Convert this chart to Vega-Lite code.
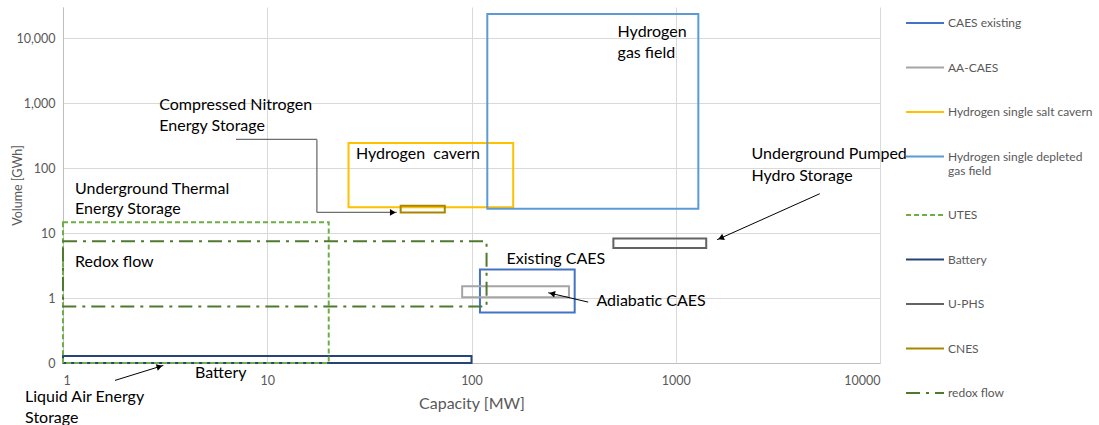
{
  "$schema": "https://vega.github.io/schema/vega-lite/v6.json",
  "width": 817,
  "height": 356,
  "autosize": {"type": "none"},
  "padding": {"left": 63, "top": 7, "right": 219, "bottom": 62},
  "background": "white",
  "config": {
    "view": {"stroke": null},
    "font": "Lato",
    "axis": {
      "labelFont": "Lato",
      "titleFont": "Lato",
      "labelColor": "#595959",
      "titleColor": "#595959",
      "gridColor": "#D9D9D9",
      "gridWidth": 1,
      "domainColor": "#BFBFBF",
      "ticks": false,
      "labelFontSize": 12.5,
      "titleFontWeight": "normal"
    },
    "legend": {
      "symbolType": "stroke",
      "symbolSize": 1444,
      "symbolStrokeWidth": 2,
      "labelFont": "Lato",
      "labelFontSize": 12,
      "labelColor": "#595959",
      "rowPadding": 18.5,
      "labelOffset": 3,
      "padding": 0,
      "labelLimit": 200
    }
  },
  "datasets": {
    "boxes": [
      {"series": "CAES existing", "x": 110, "x2": 320, "y": 0.6, "y2": 2.75},
      {"series": "AA-CAES", "x": 90, "x2": 300, "y": 1.03, "y2": 1.52},
      {"series": "Hydrogen single salt cavern", "x": 25, "x2": 160, "y": 25, "y2": 242},
      {"series": "Hydrogen single depleted gas field", "x": 119.5, "x2": 1290, "y": 23.7, "y2": 23500},
      {"series": "UTES", "x": 1, "x2": 20, "y": 0.1, "y2": 14.6},
      {"series": "Battery", "x": 1, "x2": 100, "y": 0.1, "y2": 0.128},
      {"series": "U-PHS", "x": 495, "x2": 1410, "y": 5.9, "y2": 8.2},
      {"series": "CNES", "x": 45, "x2": 74, "y": 20.7, "y2": 26.3},
      {"series": "redox flow", "x": 1, "x2": 118.5, "y": 0.74, "y2": 7.45}
    ],
    "labels": [
      {"label": "Hydrogen", "x": 519, "y": 12300},
      {"label": "gas field", "x": 519, "y": 5940},
      {"label": "Compressed Nitrogen", "x": 2.96, "y": 918},
      {"label": "Energy Storage", "x": 2.96, "y": 436},
      {"label": "Hydrogen\u00a0 cavern", "x": 27.2, "y": 162},
      {"label": "Underground Thermal", "x": 1.145, "y": 46.9},
      {"label": "Energy Storage", "x": 1.145, "y": 23.1},
      {"label": "Redox flow", "x": 1.145, "y": 3.53},
      {"label": "Battery", "x": 4.43, "y": 0.0709},
      {"label": "Liquid Air Energy", "x": 0.652, "y": 0.0299},
      {"label": "Storage", "x": 0.652, "y": 0.0144},
      {"label": "Existing CAES", "x": 148.5, "y": 3.92},
      {"label": "Adiabatic CAES", "x": 409, "y": 0.896},
      {"label": "Underground Pumped", "x": 2350, "y": 162},
      {"label": "Hydro Storage", "x": 2350, "y": 75}
    ],
    "arrows": [
      {"name": "LAES", "x": 1.797, "y": 0.054, "x2": 3.1, "y2": 0.0918},
      {"name": "AA", "x": 372.6, "y": 0.865, "x2": 237.4, "y2": 1.206},
      {"name": "UPHS", "x": 5070, "y": 40.2, "x2": 1594, "y2": 7.88},
      {"name": "CNES", "x": 7.03, "y": 275, "x2": 17.5, "y2": 275},
      {"name": "CNES", "x": 17.5, "y": 275, "x2": 17.5, "y2": 20.7},
      {"name": "CNES", "x": 17.5, "y": 20.7, "x2": 43.1, "y2": 20.7}
    ],
    "heads": [
      {"name": "LAES", "x": 2.97, "y": 0.088},
      {"name": "AA", "x": 248, "y": 1.169},
      {"name": "UPHS", "x": 1663, "y": 8.35},
      {"name": "CNES", "x": 41.2, "y": 20.7}
    ]
  },
  "encoding": {
    "x": {
      "field": "x",
      "type": "quantitative",
      "scale": {"type": "log", "domain": [1, 10000], "nice": false},
      "axis": {
        "title": "Capacity [MW]",
        "values": [1, 10, 100, 1000, 10000],
        "format": "d",
        "labelPadding": 11,
        "titleFontSize": 16,
        "titlePadding": 9
      }
    },
    "y": {
      "field": "y",
      "type": "quantitative",
      "scale": {"type": "log", "domain": [0.1, 30000], "nice": false},
      "axis": {
        "title": "Volume [GWh]",
        "values": [0.1, 1, 10, 100, 1000, 10000],
        "labelExpr": "datum.value < 1 ? '0' : format(datum.value, ',')",
        "labelPadding": 8,
        "titleFontSize": 12.5,
        "titlePadding": -9
      }
    },
    "color": {
      "field": "series",
      "type": "nominal",
      "scale": {
        "domain": ["CAES existing", "AA-CAES", "Hydrogen single salt cavern", "Hydrogen single depleted gas field", "UTES", "Battery", "U-PHS", "CNES", "redox flow"],
        "range": ["#4472C4", "#A5A5A5", "#FFC000", "#5B9BD5", "#70AD47", "#264478", "#636363", "#A98500", "#4F7A2E"]
      },
      "legend": {
        "title": null,
        "orient": "none",
        "legendX": 842,
        "legendY": -4,
        "labelExpr": "datum.label == 'Hydrogen single depleted gas field' ? ['Hydrogen single depleted', 'gas field'] : datum.label",
        "encode": {
          "symbols": {
            "update": {
              "strokeDash": {"signal": "datum.value === 'UTES' ? [5, 3] : datum.value === 'redox flow' ? [14, 6, 3, 6] : [1, 0]"}
            }
          }
        }
      }
    }
  },
  "layer": [
    {
      "data": {"name": "boxes"},
      "transform": [{"filter": "datum.series != 'UTES' && datum.series != 'redox flow'"}],
      "mark": {"type": "rect", "filled": false, "strokeWidth": 2},
      "encoding": {"x2": {"field": "x2"}, "y2": {"field": "y2"}}
    },
    {
      "data": {"name": "boxes"},
      "transform": [{"filter": "datum.series == 'UTES'"}],
      "mark": {"type": "rect", "filled": false, "strokeWidth": 2, "strokeDash": [5, 3]},
      "encoding": {"x2": {"field": "x2"}, "y2": {"field": "y2"}}
    },
    {
      "data": {"name": "boxes"},
      "transform": [{"filter": "datum.series == 'redox flow'"}],
      "mark": {"type": "rect", "filled": false, "strokeWidth": 2, "strokeDash": [14, 6, 3, 6]},
      "encoding": {"x2": {"field": "x2"}, "y2": {"field": "y2"}}
    },
    {
      "data": {"name": "arrows"},
      "transform": [{"filter": "datum.name != 'CNES'"}],
      "mark": {"type": "rule", "color": "#000000", "strokeWidth": 1},
      "encoding": {"x2": {"field": "x2"}, "y2": {"field": "y2"}, "color": null}
    },
    {
      "data": {"name": "arrows"},
      "transform": [{"filter": "datum.name == 'CNES'"}],
      "mark": {"type": "rule", "color": "#6E6E6E", "strokeWidth": 1.3},
      "encoding": {"x2": {"field": "x2"}, "y2": {"field": "y2"}, "color": null}
    },
    {
      "data": {"name": "heads"},
      "transform": [{"filter": "datum.name == 'LAES'"}],
      "mark": {"type": "point", "shape": "triangle-up", "filled": true, "color": "#000000", "size": 45, "angle": 72.7, "opacity": 1},
      "encoding": {"color": null}
    },
    {
      "data": {"name": "heads"},
      "transform": [{"filter": "datum.name == 'AA'"}],
      "mark": {"type": "point", "shape": "triangle-up", "filled": true, "color": "#000000", "size": 45, "angle": 283, "opacity": 1},
      "encoding": {"color": null}
    },
    {
      "data": {"name": "heads"},
      "transform": [{"filter": "datum.name == 'UPHS'"}],
      "mark": {"type": "point", "shape": "triangle-up", "filled": true, "color": "#000000", "size": 45, "angle": 246, "opacity": 1},
      "encoding": {"color": null}
    },
    {
      "data": {"name": "heads"},
      "transform": [{"filter": "datum.name == 'CNES'"}],
      "mark": {"type": "point", "shape": "triangle-up", "filled": true, "color": "#000000", "size": 45, "angle": 90, "opacity": 1},
      "encoding": {"color": null}
    },
    {
      "data": {"name": "labels"},
      "mark": {"type": "text", "align": "left", "baseline": "middle", "font": "Lato", "fontSize": 16, "color": "#000000"},
      "encoding": {"text": {"field": "label"}, "color": null}
    }
  ]
}
